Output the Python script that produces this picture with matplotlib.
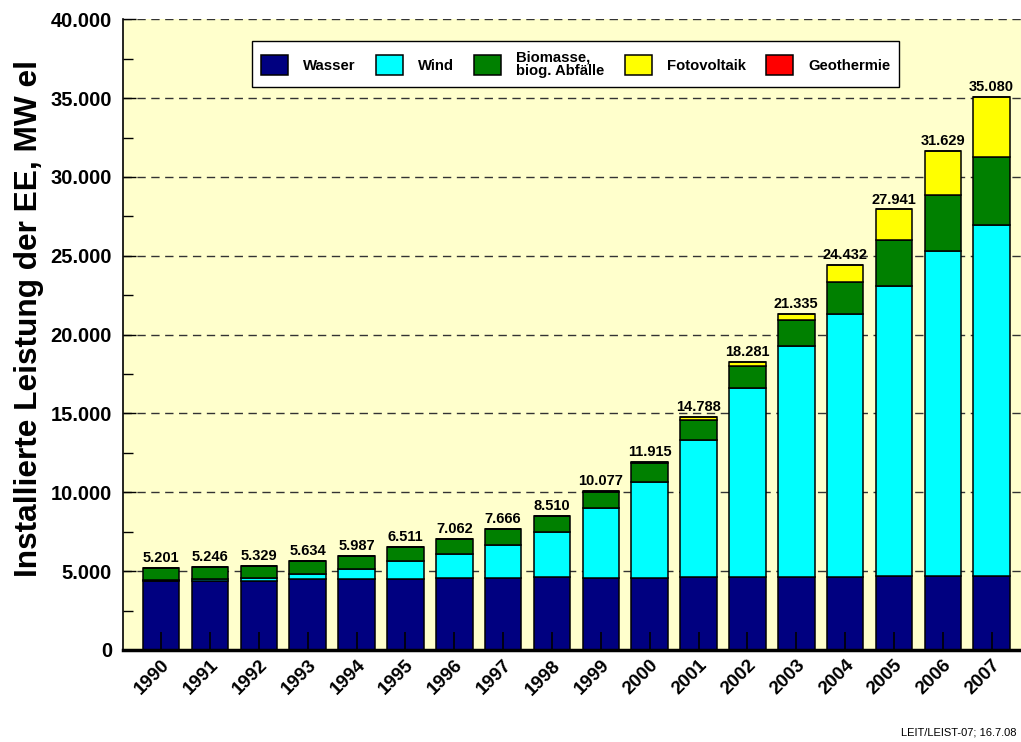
import matplotlib.pyplot as plt
from matplotlib.ticker import MultipleLocator, FuncFormatter

years = ["1990", "1991", "1992", "1993", "1994", "1995", "1996", "1997", "1998",
         "1999", "2000", "2001", "2002", "2003", "2004", "2005", "2006", "2007"]

# installed capacity in MW
wasser = [4403, 4403, 4374, 4520, 4529, 4521, 4563, 4578, 4601,
          4547, 4572, 4600, 4620, 4640, 4660, 4680, 4700, 4720]
wind = [55, 106, 174, 326, 618, 1121, 1549, 2089, 2877,
        4435, 6097, 8738, 11976, 14609, 16629, 18428, 20622, 22247]
biomasse = [742, 735, 778, 783, 834, 861, 939, 981, 1009,
            1063, 1170, 1264, 1389, 1651, 2038, 2923, 3564, 4299]
fotovoltaik = [1, 2, 3, 5, 6, 8, 11, 18, 23,
               32, 76, 186, 296, 435, 1105, 1910, 2743, 3811]
geothermie = [0, 0, 0, 0, 0, 0, 0, 0, 0,
              0, 0, 0, 0, 0, 0.2, 0.2, 0.7, 3]
totals = [5201, 5246, 5329, 5634, 5987, 6511, 7062, 7666, 8510,
          10077, 11915, 14788, 18281, 21335, 24432, 27941, 31629, 35080]

series = [
    ("Wasser", wasser, "#000080"),
    ("Wind", wind, "#00FFFF"),
    ("Biomasse,\nbiog. Abfälle", biomasse, "#008000"),
    ("Fotovoltaik", fotovoltaik, "#FFFF00"),
    ("Geothermie", geothermie, "#FF0000"),
]

plt.rcParams['font.family'] = ['Liberation Sans', 'DejaVu Sans']
plt.rcParams['font.weight'] = 'bold'

fig = plt.figure(figsize=(10.21, 7.42), dpi=100)
ax = fig.add_axes([0.1205, 0.124, 0.8795, 0.850])
ax.set_facecolor("#FFFFCC")

x = list(range(len(years)))

# dashed grid behind the bars
for v in range(5000, 40001, 5000):
    ax.axhline(v, color="#333333", lw=1.0, ls=(0, (6, 4)), zorder=0.5)

bottom = [0.0] * len(years)
for name, vals, col in series:
    ax.bar(x, vals, width=0.75, bottom=bottom, color=col, edgecolor="black",
           linewidth=1.1, label=name, zorder=1)
    bottom = [b + v for b, v in zip(bottom, vals)]

for xi, t in zip(x, totals):
    ax.text(xi, t + 180, f"{t:,}".replace(",", "."), ha="center", va="bottom",
            fontsize=10.5, fontweight="bold")

ax.set_xlim(-0.78, 17.6)
ax.set_ylim(0, 40000)

ax.yaxis.set_major_locator(MultipleLocator(5000))
ax.yaxis.set_minor_locator(MultipleLocator(2500))
ax.yaxis.set_major_formatter(FuncFormatter(lambda v, p: f"{int(v):,}".replace(",", ".")))
ax.tick_params(axis="y", which="major", direction="in", length=9, width=1,
               labelsize=14.5, pad=8)
ax.tick_params(axis="y", which="minor", direction="in", length=7, width=1)

ax.set_xticks(x)
ax.set_xticklabels(years, rotation=45, ha="right", rotation_mode="anchor",
                   fontsize=13.5, fontweight="bold")
ax.tick_params(axis="x", direction="in", length=13, width=1.2, pad=5)

for lab in ax.get_yticklabels():
    lab.set_fontweight("bold")

ax.spines["top"].set_visible(False)
ax.spines["right"].set_visible(False)
ax.spines["left"].set_linewidth(1.2)
ax.spines["bottom"].set_linewidth(2.5)

ax.set_ylabel("Installierte Leistung der EE, MW el", fontsize=22.8, fontweight="bold")
ax.yaxis.set_label_coords(-0.0875, 0.525)

leg = ax.legend(loc="upper center", bbox_to_anchor=(0.504, 0.965), ncol=5,
                fontsize=10.7, frameon=True, fancybox=False, edgecolor="black",
                facecolor="white", framealpha=1, handlelength=1.8,
                handleheight=1.75, columnspacing=1.4, handletextpad=1.0,
                borderpad=0.6, borderaxespad=0)
leg.get_frame().set_linewidth(1.0)
for t in leg.get_texts():
    t.set_fontweight("bold")
    t.set_linespacing(1.0)

fig.text(0.996, 0.006, "LEIT/LEIST-07; 16.7.08", ha="right", va="bottom",
         fontsize=8, fontweight="normal")

fig.savefig("out.png", dpi=100, facecolor="white")
